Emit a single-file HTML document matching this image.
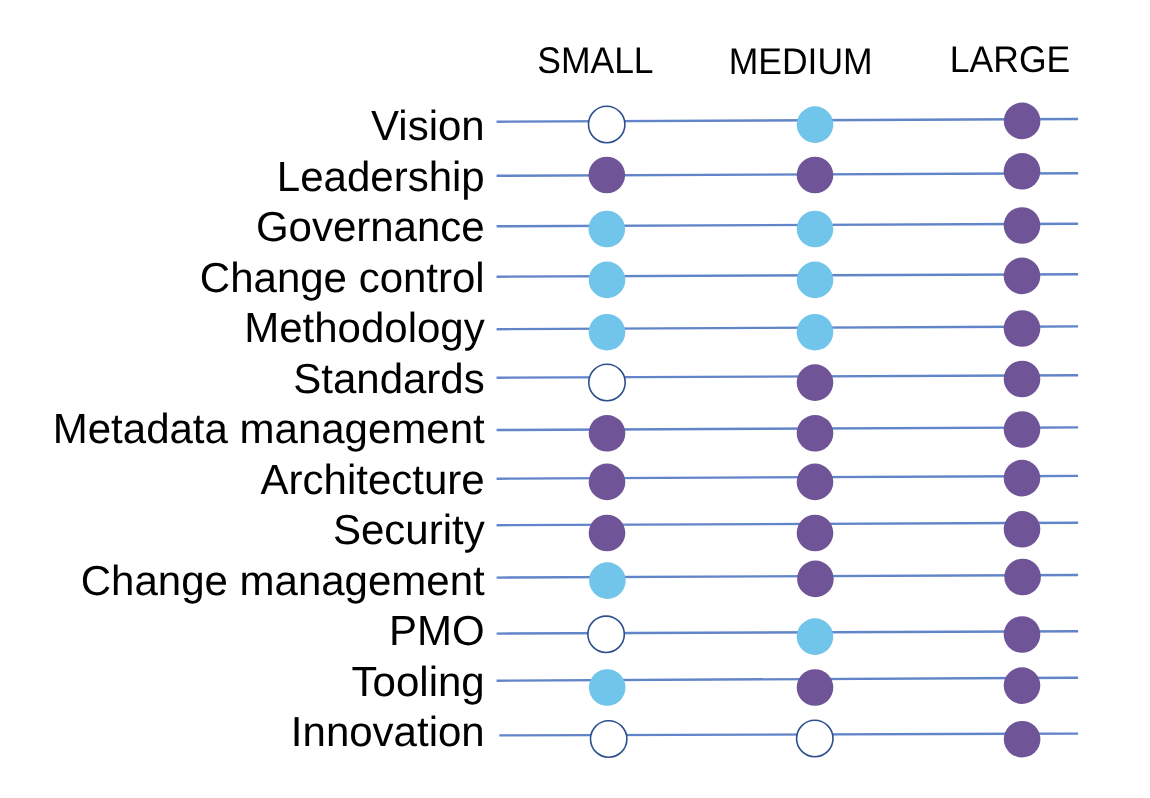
<!DOCTYPE html><html><head><meta charset="utf-8"><style>html,body{margin:0;padding:0;background:#fff;width:1150px;height:798px;overflow:hidden}svg{display:block;will-change:transform;text-rendering:geometricPrecision}text{font-family:"Liberation Sans",sans-serif;fill:#000}</style></head><body>
<svg width="1150" height="798" viewBox="0 0 1150 798">
<rect width="1150" height="798" fill="#fff"/>
<text transform="translate(595.4 72.6) scale(1 1.045)" font-size="35.5" text-anchor="middle">SMALL</text>
<text transform="translate(800.7 74.0) scale(1 1.045)" font-size="35.5" text-anchor="middle">MEDIUM</text>
<text transform="translate(1010 71.7) scale(1 1.045)" font-size="35.5" text-anchor="middle">LARGE</text>
<text transform="translate(484.7 140.1) scale(1 1.0)" font-size="42" text-anchor="end">Vision</text>
<text transform="translate(484.7 190.8) scale(1 1.0)" font-size="42" text-anchor="end">Leadership</text>
<text transform="translate(484.7 240.5) scale(1 1.0)" font-size="42" text-anchor="end">Governance</text>
<text transform="translate(484.7 292.1) scale(1 1.0)" font-size="42" text-anchor="end">Change control</text>
<text transform="translate(484.7 342.0) scale(1 1.0)" font-size="42" text-anchor="end">Methodology</text>
<text transform="translate(484.7 392.8) scale(1 1.0)" font-size="42" text-anchor="end">Standards</text>
<text transform="translate(484.7 443.1) scale(1 1.0)" font-size="42" text-anchor="end">Metadata management</text>
<text transform="translate(484.7 493.7) scale(1 1.0)" font-size="42" text-anchor="end">Architecture</text>
<text transform="translate(484.7 544.2) scale(1 1.0)" font-size="42" text-anchor="end">Security</text>
<text transform="translate(484.7 594.6) scale(1 1.0)" font-size="42" text-anchor="end">Change management</text>
<text transform="translate(484.7 645.0) scale(1 1.0)" font-size="42" text-anchor="end">PMO</text>
<text transform="translate(484.7 695.9) scale(1 1.0)" font-size="42" text-anchor="end">Tooling</text>
<text transform="translate(484.7 746.2) scale(1 1.0)" font-size="42" text-anchor="end">Innovation</text>
<line x1="496.6" y1="121.7" x2="1078.1" y2="119" stroke="#6284C8" stroke-width="2.4"/>
<line x1="496.6" y1="175.8" x2="1078.1" y2="173.2" stroke="#6284C8" stroke-width="2.4"/>
<line x1="496.6" y1="226.3" x2="1078.1" y2="223.7" stroke="#6284C8" stroke-width="2.4"/>
<line x1="496.6" y1="276.7" x2="1078.1" y2="274.2" stroke="#6284C8" stroke-width="2.4"/>
<line x1="496.6" y1="329.2" x2="1078.1" y2="326.4" stroke="#6284C8" stroke-width="2.4"/>
<line x1="496.6" y1="377.7" x2="1078.1" y2="375.3" stroke="#6284C8" stroke-width="2.4"/>
<line x1="496.6" y1="430" x2="1078.1" y2="427.4" stroke="#6284C8" stroke-width="2.4"/>
<line x1="496.6" y1="478.7" x2="1078.1" y2="475.9" stroke="#6284C8" stroke-width="2.4"/>
<line x1="496.6" y1="525.2" x2="1078.1" y2="522.8" stroke="#6284C8" stroke-width="2.4"/>
<line x1="496.6" y1="577.6" x2="1078.1" y2="575" stroke="#6284C8" stroke-width="2.4"/>
<line x1="496.6" y1="633.6" x2="1078.1" y2="631.2" stroke="#6284C8" stroke-width="2.4"/>
<line x1="496.6" y1="680.7" x2="1078.1" y2="677.7" stroke="#6284C8" stroke-width="2.4"/>
<line x1="499.3" y1="735.4" x2="1078.1" y2="733.6" stroke="#6284C8" stroke-width="2.4"/>
<circle cx="606.7" cy="124.5" r="18.2" fill="#fff" stroke="#2D4F8E" stroke-width="1.6"/>
<circle cx="606.8" cy="175" r="18.3" fill="#6F5597"/>
<circle cx="606.8" cy="229" r="18.3" fill="#72C5EA"/>
<circle cx="607" cy="279.9" r="18.3" fill="#72C5EA"/>
<circle cx="607" cy="332.2" r="18.3" fill="#72C5EA"/>
<circle cx="607" cy="382.5" r="18.2" fill="#fff" stroke="#2D4F8E" stroke-width="1.6"/>
<circle cx="607" cy="433.3" r="18.3" fill="#6F5597"/>
<circle cx="607" cy="481.9" r="18.3" fill="#6F5597"/>
<circle cx="607" cy="533" r="18.3" fill="#6F5597"/>
<circle cx="607.4" cy="580.6" r="18.3" fill="#72C5EA"/>
<circle cx="606.1" cy="634.3" r="18.2" fill="#fff" stroke="#2D4F8E" stroke-width="1.6"/>
<circle cx="607.2" cy="687.5" r="18.3" fill="#72C5EA"/>
<circle cx="608.7" cy="739" r="18.2" fill="#fff" stroke="#2D4F8E" stroke-width="1.6"/>
<circle cx="815" cy="124.6" r="18.3" fill="#72C5EA"/>
<circle cx="815" cy="175" r="18.3" fill="#6F5597"/>
<circle cx="815" cy="229" r="18.3" fill="#72C5EA"/>
<circle cx="815" cy="279.9" r="18.3" fill="#72C5EA"/>
<circle cx="815" cy="332.2" r="18.3" fill="#72C5EA"/>
<circle cx="815" cy="382.6" r="18.3" fill="#6F5597"/>
<circle cx="815" cy="433.3" r="18.3" fill="#6F5597"/>
<circle cx="815" cy="481.9" r="18.3" fill="#6F5597"/>
<circle cx="815" cy="533" r="18.3" fill="#6F5597"/>
<circle cx="815.4" cy="578.9" r="18.3" fill="#6F5597"/>
<circle cx="815" cy="636.6" r="18.3" fill="#72C5EA"/>
<circle cx="815" cy="687.5" r="18.3" fill="#6F5597"/>
<circle cx="814.8" cy="738.5" r="18.2" fill="#fff" stroke="#2D4F8E" stroke-width="1.6"/>
<circle cx="1022.1" cy="120.9" r="18.3" fill="#6F5597"/>
<circle cx="1022" cy="171.3" r="18.3" fill="#6F5597"/>
<circle cx="1022" cy="225.5" r="18.3" fill="#6F5597"/>
<circle cx="1022" cy="275.9" r="18.3" fill="#6F5597"/>
<circle cx="1022" cy="328.5" r="18.3" fill="#6F5597"/>
<circle cx="1022" cy="379" r="18.3" fill="#6F5597"/>
<circle cx="1022" cy="429.5" r="18.3" fill="#6F5597"/>
<circle cx="1022" cy="478.1" r="18.3" fill="#6F5597"/>
<circle cx="1022" cy="529.3" r="18.3" fill="#6F5597"/>
<circle cx="1022.6" cy="577" r="18.3" fill="#6F5597"/>
<circle cx="1022" cy="634.5" r="18.3" fill="#6F5597"/>
<circle cx="1022" cy="685.6" r="18.3" fill="#6F5597"/>
<circle cx="1022.1" cy="739.2" r="18.3" fill="#6F5597"/>
</svg></body></html>
